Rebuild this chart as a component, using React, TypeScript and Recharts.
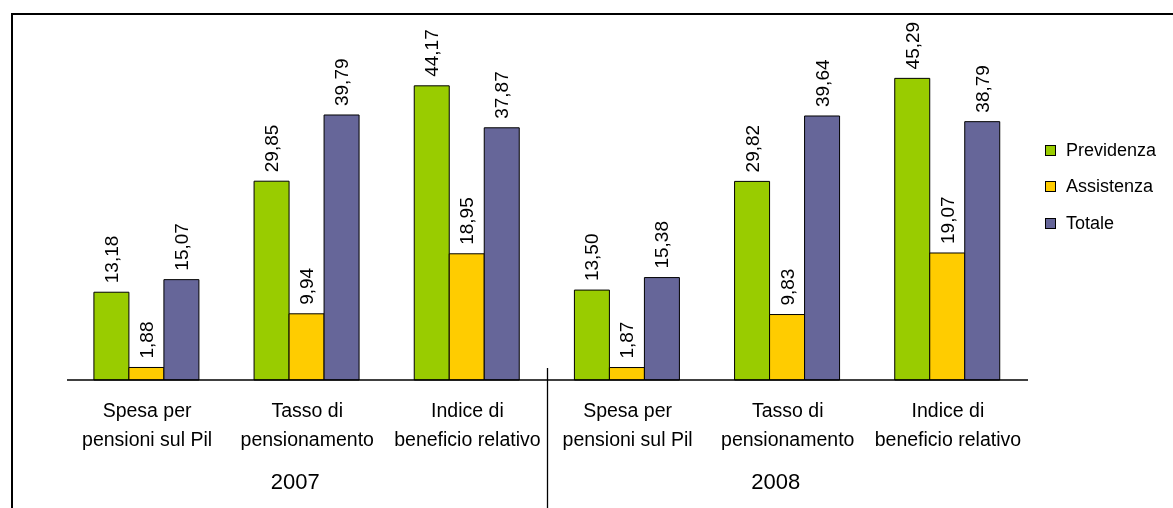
import { BarChart, Bar, XAxis, YAxis, LabelList, Legend } from 'recharts';

const categories = [
  ['Spesa per', 'pensioni sul Pil'],
  ['Tasso di', 'pensionamento'],
  ['Indice di', 'beneficio relativo'],
  ['Spesa per', 'pensioni sul Pil'],
  ['Tasso di', 'pensionamento'],
  ['Indice di', 'beneficio relativo'],
];
const years = ['2007', '2007', '2007', '2008', '2008', '2008'];
const previdenza = [13.18, 29.85, 44.17, 13.5, 29.82, 45.29];
const assistenza = [1.88, 9.94, 18.95, 1.87, 9.83, 19.07];
const totale = [15.07, 39.79, 37.87, 15.38, 39.64, 38.79];

const series = [
  { key: 'previdenza', name: 'Previdenza', color: '#99CC00' },
  { key: 'assistenza', name: 'Assistenza', color: '#FFCC00' },
  { key: 'totale', name: 'Totale', color: '#666699' },
];

const data = categories.map((c, i) => ({
  key: `${c.join(' ')} ${years[i]}`,
  previdenza: previdenza[i],
  assistenza: assistenza[i],
  totale: totale[i],
}));

const FONT = '"Liberation Sans", Arial, sans-serif';

const fmt = (v: number) => v.toFixed(2).replace('.', ',');

function ValueLabel(props: any) {
  const { x, y, width, value } = props;
  const cx = x + width / 2;
  const cy = y - 9;
  return (
    <text
      x={cx}
      y={cy}
      transform={`rotate(-90 ${cx} ${cy})`}
      textAnchor="start"
      dominantBaseline="central"
      fontSize={19}
      fontFamily={FONT}
      fill="#000"
    >
      {fmt(Number(value))}
    </text>
  );
}

function CategoryTick(props: any) {
  const { x, y, payload, index } = props;
  const half = payload?.offset ?? 80;
  const lines = categories[index] ?? [];
  return (
    <g>
      {lines.map((l, k) => (
        <text
          key={k}
          x={x}
          y={y + 29 + k * 29}
          textAnchor="middle"
          fontSize={19.5}
          fontFamily={FONT}
          fill="#000"
        >
          {l}
        </text>
      ))}
      {(index === 1 || index === 4) && (
        <text x={x - 12} y={y + 101} textAnchor="middle" fontSize={22} fontFamily={FONT} fill="#000">
          {years[index]}
        </text>
      )}
      {index === 2 && (
        <line x1={x + half} x2={x + half} y1={y - 20} y2={y + 140} stroke="#000" strokeWidth={1.3} />
      )}
    </g>
  );
}

function LegendBox(props: any) {
  const payload = [...(props.payload || [])].sort(
    (a: any, b: any) =>
      series.findIndex((s) => s.name === a.value) - series.findIndex((s) => s.name === b.value)
  );
  return (
    <div style={{ fontFamily: FONT, fontSize: 18 }}>
      {payload.map((p: any) => (
        <div key={p.value} style={{ height: 36.5, display: 'flex', alignItems: 'center' }}>
          <span
            style={{
              display: 'inline-block',
              width: 9,
              height: 9,
              background: p.color,
              border: '1.5px solid #000',
              marginRight: 10,
            }}
          />
          <span>{p.value}</span>
        </div>
      ))}
    </div>
  );
}

export default function App() {
  return (
    <div style={{ position: 'fixed', left: 8, top: 8, width: 1165, height: 500, overflow: 'hidden' }}>
      <div
        style={{
          position: 'absolute',
          left: 3,
          top: 5,
          width: 1400,
          height: 800,
          border: '2px solid #000',
        }}
      />
      <BarChart
        width={1165}
        height={500}
        data={data}
        margin={{ top: 39, right: 145, left: 59, bottom: 0 }}
        barCategoryGap="16.8%"
        barGap={0}
      >
        <XAxis
          dataKey="key"
          height={128}
          interval={0}
          tickLine={false}
          axisLine={{ stroke: '#000', strokeWidth: 1.5 }}
          tick={<CategoryTick />}
        />
        <YAxis hide domain={[0, 50]} />
        <Legend
          layout="vertical"
          align="center"
          verticalAlign="middle"
          content={<LegendBox />}
          wrapperStyle={{ left: 1037, top: 124, width: 'auto', height: 'auto' }}
        />
        {series.map((s) => (
          <Bar
            key={s.key}
            dataKey={s.key}
            name={s.name}
            fill={s.color}
            stroke="#000"
            strokeWidth={1}
            isAnimationActive={false}
          >
            <LabelList dataKey={s.key} content={<ValueLabel />} />
          </Bar>
        ))}
      </BarChart>
    </div>
  );
}
